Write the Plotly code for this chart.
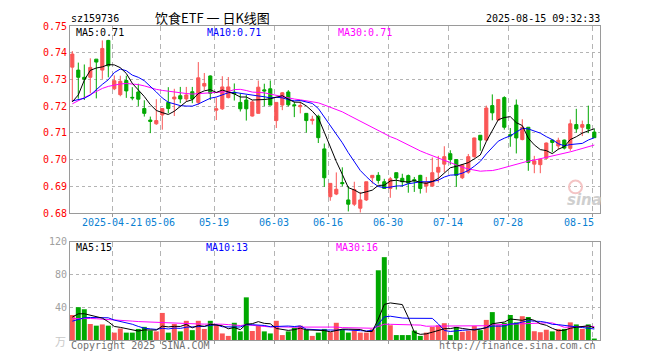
import numpy as np
import plotly.graph_objects as go

# ---------------- data ----------------
dates = [
    "2025-04-10", "2025-04-11", "2025-04-14", "2025-04-15", "2025-04-16", "2025-04-17", "2025-04-18",
    "2025-04-21", "2025-04-22", "2025-04-23", "2025-04-24", "2025-04-25", "2025-04-28", "2025-04-29", "2025-04-30",
    "2025-05-06", "2025-05-07", "2025-05-08", "2025-05-09", "2025-05-12", "2025-05-13", "2025-05-14", "2025-05-15",
    "2025-05-16", "2025-05-19", "2025-05-20", "2025-05-21", "2025-05-22", "2025-05-23", "2025-05-26", "2025-05-27",
    "2025-05-28", "2025-05-29", "2025-05-30",
    "2025-06-03", "2025-06-04", "2025-06-05", "2025-06-06", "2025-06-09", "2025-06-10", "2025-06-11", "2025-06-12",
    "2025-06-13", "2025-06-16", "2025-06-17", "2025-06-18", "2025-06-19", "2025-06-20", "2025-06-23", "2025-06-24",
    "2025-06-25", "2025-06-26", "2025-06-27", "2025-06-30",
    "2025-07-01", "2025-07-02", "2025-07-03", "2025-07-04", "2025-07-07", "2025-07-08", "2025-07-09", "2025-07-10",
    "2025-07-11", "2025-07-14", "2025-07-15", "2025-07-16", "2025-07-17", "2025-07-18", "2025-07-21", "2025-07-22",
    "2025-07-23", "2025-07-24", "2025-07-25", "2025-07-28", "2025-07-29", "2025-07-30", "2025-07-31",
    "2025-08-01", "2025-08-04", "2025-08-05", "2025-08-06", "2025-08-07", "2025-08-08", "2025-08-11", "2025-08-12",
    "2025-08-13", "2025-08-14", "2025-08-15",
]

open_ = [.7346, .7335, .7308, .7308, .7376, .7335, .7446, .7265, .7243, .7296,
         .7233, .7253, .7191, .7148, .7134, .7167, .7214, .7227, .7239, .7227,
         .7254, .7214, .7275, .7313, .7185, .7190, .7232, .7252, .7214, .7223,
         .7163, .7173, .7261, .7265, .7146, .7204, .7253, .7205, .7198, .7173,
         .7146, .7162, .7040, .6861, .6871, .6914, .6849, .6833, .6818, .6849,
         .6932, .6941, .6917, .6892, .6951, .6930, .6940, .6925, .6941, .6901,
         .6901, .6953, .6983, .7022, .7000, .6932, .6953, .7011, .7091, .7073,
         .7202, .7148, .7232, .7093, .7204, .7075, .7121, .6983, .6981, .7005,
         .7073, .7051, .7073, .7042, .7131, .7121, .7131, .7103]

high = [.7406, .7363, .7356, .7379, .7376, .7446, .7448, .7315, .7314, .7314,
        .7271, .7284, .7222, .7161, .7226, .7191, .7271, .7265, .7272, .7272,
        .7272, .7365, .7324, .7315, .7232, .7312, .7309, .7285, .7248, .7242,
        .7222, .7296, .7284, .7296, .7214, .7253, .7260, .7217, .7217, .7173,
        .7164, .7168, .7060, .6911, .6952, .6971, .6901, .6917, .6879, .6917,
        .6941, .6953, .6928, .6935, .6951, .6947, .6944, .6935, .6943, .6935,
        .7008, .7014, .7050, .7035, .7001, .6980, .7021, .7082, .7091, .7202,
        .7244, .7225, .7237, .7118, .7225, .7151, .7121, .7014, .7002, .7064,
        .7075, .7082, .7075, .7150, .7190, .7146, .7202, .7116]

low = [.7216, .7228, .7223, .7248, .7229, .7302, .7308, .7260, .7237, .7231,
       .7222, .7200, .7161, .7099, .7130, .7112, .7173, .7163, .7211, .7217,
       .7211, .7205, .7260, .7223, .7148, .7186, .7229, .7221, .7180, .7146,
       .7161, .7173, .7200, .7204, .7118, .7185, .7199, .7159, .7173, .7101,
       .7131, .7062, .6898, .6846, .6867, .6900, .6806, .6826, .6802, .6845,
       .6910, .6910, .6892, .6857, .6888, .6898, .6876, .6879, .6873, .6876,
       .6898, .6914, .6953, .6981, .6898, .6927, .6947, .7007, .7033, .7067,
       .7147, .7146, .7112, .7048, .7023, .7072, .6958, .6949, .6949, .7001,
       .7027, .7038, .7038, .7033, .7101, .7088, .7099, .7082]

close = [.7395, .7308, .7301, .7345, .7365, .7416, .7351, .7295, .7293, .7257,
         .7231, .7226, .7173, .7143, .7146, .7191, .7191, .7234, .7227, .7242,
         .7227, .7306, .7285, .7248, .7190, .7272, .7272, .7247, .7190, .7190,
         .7216, .7271, .7257, .7204, .7214, .7250, .7205, .7202, .7202, .7146,
         .7151, .7082, .6932, .6911, .6889, .6910, .6833, .6888, .6849, .6917,
         .6941, .6922, .6892, .6928, .6931, .6917, .6912, .6920, .6892, .6914,
         .6951, .6971, .7011, .7000, .6941, .6980, .7011, .7081, .7073, .7193,
         .7175, .7225, .7121, .7089, .7081, .7121, .6989, .6995, .7001, .7062,
         .7064, .7072, .7043, .7134, .7115, .7131, .7115, .7082]

volume = [30.5, 40, 37.5, 19.5, 17.5, 19, 17.5, 9, 14, 9,
          9, 13.5, 16, 11.5, 10.5, 33, 9, 19.5, 10.5, 23.4,
          12, 23.4, 13.5, 23.4, 18.5, 8, 5, 21, 10.5, 52,
          11, 17.5, 10.5, 8, 23.4, 6, 10.5, 15, 17.5, 12.7,
          5, 9, 13.5, 9.5, 21, 13, 9, 12, 9, 9,
          13, 85, 101, 18, 6, 6, 6, 11.5, 5, 9,
          16, 18, 20.5, 6, 16, 10, 11.5, 17, 12, 24.5,
          34, 18, 21, 30.5, 21.5, 29, 28, 10.7, 9.5, 12.5,
          10.5, 13.5, 13.5, 21.5, 19, 13.5, 19, 1.6]

# sessions before the visible window (only used to seed the moving averages)
prior_close = [0.696, 0.697, 0.698, 0.704, 0.706, 0.712, 0.714, 0.718, 0.720, 0.728,
               0.730, 0.732, 0.735, 0.733, 0.731, 0.729, 0.733, 0.732, 0.730, 0.729,
               0.7268, 0.7241, 0.7225, 0.7155, 0.7226, 0.7178, 0.7026, 0.7160, 0.7321]
prior_volume = [30, 28, 33, 26, 29, 31, 27, 25, 24, 28, 30, 26, 27, 25, 29, 24, 26, 28, 25, 29,
                17, 19, 16, 18, 20, 20, 37, 28, 24]

tick_dates = ["2025-04-21", "2025-05-06", "2025-05-19", "2025-06-03", "2025-06-16",
              "2025-06-30", "2025-07-14", "2025-07-28", "2025-08-15"]
tick_labels = ["2025-04-21", "05-06", "05-19", "06-03", "06-16", "06-30", "07-14", "07-28", "08-15"]

price_ticks = [0.68, 0.69, 0.70, 0.71, 0.72, 0.73, 0.74, 0.75]
volume_ticks = [40, 80, 120]

code = "sz159736"
title = "饮食ETF 一 日K线图"
stamp = "2025-08-15 09:32:33"

# ---------------- derived ----------------
n = len(close)
idx = np.arange(n)

def moving_avg(prior, vals, w):
    full = np.array(prior + vals, dtype=float)
    off = len(prior)
    return np.array([full[off + i - w + 1: off + i + 1].mean() for i in range(len(vals))])

ma5 = moving_avg(prior_close, close, 5)
ma10 = moving_avg(prior_close, close, 10)
ma30 = moving_avg(prior_close, close, 30)
vma5 = moving_avg(prior_volume, volume, 5)
vma10 = moving_avg(prior_volume, volume, 10)
vma30 = moving_avg(prior_volume, volume, 30)

RED = "#fa5656"
GREEN = "#00a800"
BLUE = "#0000ff"
MAG = "#ff00ff"
GRID = "#b4b4b4"
BORDER = "#9a9a9a"
MONO = "DejaVu Sans Mono"

fig = go.Figure()
fig.add_trace(go.Candlestick(
    x=idx, open=open_, high=high, low=low, close=close,
    increasing=dict(line=dict(color=RED, width=1), fillcolor=RED),
    decreasing=dict(line=dict(color=GREEN, width=1), fillcolor=GREEN),
    whiskerwidth=0, showlegend=False, hoverinfo="skip", xaxis="x", yaxis="y"))
for series, col in ((ma30, MAG), (ma10, BLUE), (ma5, "#000000")):
    fig.add_trace(go.Scatter(x=idx, y=series, mode="lines", line=dict(color=col, width=1),
                             showlegend=False, hoverinfo="skip", xaxis="x", yaxis="y"))

bar_colors = [RED if c > o else GREEN for o, c in zip(open_, close)]
fig.add_trace(go.Bar(x=idx, y=volume, marker=dict(color=bar_colors, line=dict(width=0)),
                     width=0.83, showlegend=False, hoverinfo="skip", xaxis="x2", yaxis="y2"))
for series, col in ((vma30, MAG), (vma10, BLUE), (vma5, "#000000")):
    fig.add_trace(go.Scatter(x=idx, y=series, mode="lines", line=dict(color=col, width=1),
                             showlegend=False, hoverinfo="skip", xaxis="x2", yaxis="y2"))

tick_idx = [dates.index(d) for d in tick_dates]
grid_x = [i - 0.333 for i in tick_idx]
xr = [-0.383, n - 1 + 0.95]

# page body has an 8px margin: plot area is placed so that it lands at 70..600 x 21..340 on screen
H_PLOT = 319.0
def py(pix):
    return (340.0 - pix) / H_PLOT
def px(pix):
    return (pix - 70.0) / 530.0

common_x = dict(range=xr, showgrid=True, gridcolor=GRID, griddash="5px,4px", gridwidth=1,
                tickvals=grid_x, showticklabels=False, zeroline=False,
                showline=True, mirror=True, linecolor=BORDER, linewidth=1,
                ticks="outside", ticklen=3, tickcolor=BORDER, fixedrange=True)

fig.update_layout(
    width=660, height=360,
    margin=dict(l=62, r=68, t=13, b=28),
    paper_bgcolor="white", plot_bgcolor="white",
    font=dict(family=MONO, size=10, color="#000"),
    boxgap=0.25,
    xaxis=dict(domain=[0, 1], anchor="y", rangeslider=dict(visible=False), **common_x),
    xaxis2=dict(domain=[0, 1], anchor="y2", matches="x", **common_x),
    yaxis=dict(domain=[py(211), 1], range=[0.68, 0.75], tickvals=price_ticks,
               ticktext=[f"{v:.2f}" for v in price_ticks],
               tickfont=dict(family=MONO, size=10, color="#ff0000"),
               showgrid=True, gridcolor=GRID, griddash="dot", zeroline=False,
               showline=True, mirror=True, linecolor=BORDER, linewidth=1, ticks="", fixedrange=True),
    yaxis2=dict(domain=[0, py(240)], range=[0, 120], tickvals=volume_ticks,
                ticktext=[str(v) for v in volume_ticks],
                tickfont=dict(family=MONO, size=10, color="#a0a0a0"),
                showgrid=True, gridcolor=GRID, griddash="dot", zeroline=False,
                showline=True, mirror=True, linecolor=BORDER, linewidth=1, ticks="", fixedrange=True),
)

ann = []
def text(x, y, s, color="#000", anchor="left", size=10, family=MONO, xref="paper", **kw):
    ann.append(dict(x=x, y=y, xref=xref, yref="paper", text=s, showarrow=False,
                    xanchor=anchor, yanchor="middle", borderpad=0,
                    font=dict(family=family, size=size, color=color), **kw))

text(px(70), py(13), code)
text(px(212), py(12), title, anchor="center", size=13, family="Noto Sans CJK SC")
text(px(601), py(13), stamp, anchor="right")

text(px(75), py(27.5), f"MA5:{ma5[-1]:.2f}")
text(px(206), py(27.5), f"MA10:{ma10[-1]:.2f}", color=BLUE)
text(px(337), py(27.5), f"MA30:{ma30[-1]:.2f}", color=MAG)

text(px(75), py(246), f"MA5:{int(round(vma5[-1]))}")
text(px(205), py(246), f"MA10:{int(round(vma10[-1]))}", color=BLUE)
text(px(335), py(246), f"MA30:{int(round(vma30[-1]))}", color=MAG)

for k, (gx, lab) in enumerate(zip(grid_x, tick_labels)):
    if k == len(tick_labels) - 1:
        text(gx + 0.45, py(221), lab, color="#0a7fd2", anchor="right", xref="x")
    else:
        text(gx, py(221), lab, color="#0a7fd2", anchor="center", xref="x")

text(px(67), py(341), "万", color="#c8c8c8", anchor="right", size=11, family="Noto Sans CJK SC")
text(px(70), py(346), "Copyright 2025 SINA.COM", color="#707070")
text(px(597), py(346), "http://finance.sina.com.cn", color="#707070", anchor="right")

# faint sina watermark
text(px(584), py(198), "<b><i>sina</i></b>", color="#cfcfcf", anchor="center", size=15,
     family="DejaVu Sans")
fig.update_layout(annotations=ann)
fig.add_shape(type="circle", xref="paper", yref="paper",
              x0=px(569), x1=px(582), y0=py(191), y1=py(178),
              line=dict(color="#f4c4c4", width=2))

fig.write_html("out.html")
